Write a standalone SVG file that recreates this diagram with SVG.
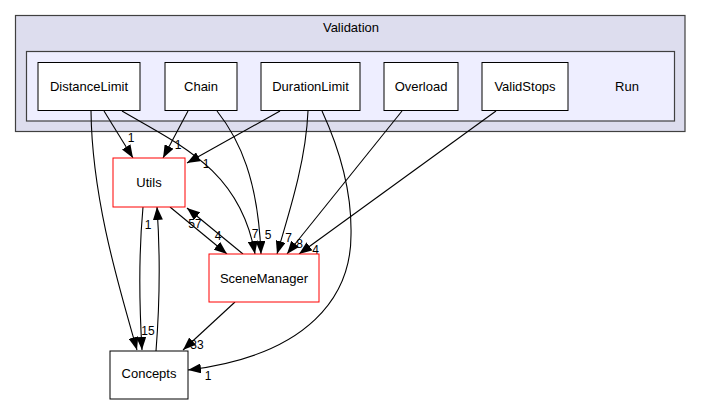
<svg xmlns="http://www.w3.org/2000/svg" width="701" height="404" viewBox="0 0 701 404">
<style>
text{font-family:"Liberation Sans",Arial,Helvetica,sans-serif;fill:#000}
.n{font-size:13px;text-anchor:middle}
.l{font-size:12px;text-anchor:middle}
.node{fill:#fff;stroke:#000;stroke-width:1}
.red{fill:#fff;stroke:#ff0000;stroke-width:1}
.e{fill:none;stroke:#000;stroke-width:1.1;marker-end:url(#ah)}
</style>
<defs>
<marker id="ah" markerUnits="userSpaceOnUse" markerWidth="13" markerHeight="10" refX="13" refY="5" orient="auto">
<path d="M0,0 L13,5 L0,10 z" fill="#000"/>
</marker>
</defs>
<rect width="701" height="404" fill="#fff"/>
<g id="cluster-validation">
<rect x="15.5" y="15.5" width="669.5" height="116" fill="#ddddee" stroke="#404040" stroke-width="1.2"/>
<text class="n" x="351" y="31.5">Validation</text>
</g>
<g id="cluster-run">
<rect x="26.5" y="51.5" width="648" height="69.5" fill="#eeeeff" stroke="#404040" stroke-width="1.2"/>
<text class="n" x="627" y="90.5">Run</text>
</g>
<g id="connectors">
<path class="e" d="M104,111 L133,158"/>
<path class="e" d="M188,111 L163,158"/>
<path class="e" d="M280,111 L187,163"/>
<path class="e" d="M122,111 C180,145 240,170 255,254"/>
<path class="e" d="M217,111 C240,140 258,180 261,254"/>
<path class="e" d="M308,111 C306,160 290,210 277,254"/>
<path class="e" d="M402,111 L287,254"/>
<path class="e" d="M496,111 L299,254"/>
<path class="e" d="M322,111 C340,150 352,190 351,235 C351,295 310,355 188,370"/>
<path class="e" d="M91,111 C92,200 120,290 137,350"/>
<path class="e" d="M143,207 C139,250 139,300 142,350"/>
<path class="e" d="M156,351 C160,300 160,250 157,207"/>
<path class="e" d="M170,207 L227,254"/>
<path class="e" d="M243,254 L187,208"/>
<path class="e" d="M235,302 L183,350"/>
<text class="l" x="131" y="142">1</text>
<text class="l" x="178" y="149">1</text>
<text class="l" x="206" y="167.5">1</text>
<text class="l" x="148" y="228.5">1</text>
<text class="l" x="148" y="335">15</text>
<text class="l" x="195" y="228">57</text>
<text class="l" x="218" y="240">4</text>
<text class="l" x="255" y="238">7</text>
<text class="l" x="268" y="238.5">5</text>
<text class="l" x="288.5" y="241.5">7</text>
<text class="l" x="299.5" y="248">8</text>
<text class="l" x="315.5" y="253.5">4</text>
<text class="l" x="197" y="349">33</text>
<text class="l" x="208" y="380">1</text>
</g>
<g id="node-distancelimit">
<rect class="node" x="38" y="62.5" width="102" height="48"/>
<text class="n" x="89" y="91">DistanceLimit</text>
</g>
<g id="node-chain">
<rect class="node" x="165" y="62.5" width="72" height="48"/>
<text class="n" x="201" y="91">Chain</text>
</g>
<g id="node-durationlimit">
<rect class="node" x="261" y="62.5" width="99" height="48"/>
<text class="n" x="310.5" y="91">DurationLimit</text>
</g>
<g id="node-overload">
<rect class="node" x="384" y="62.5" width="74" height="48"/>
<text class="n" x="421" y="91">Overload</text>
</g>
<g id="node-validstops">
<rect class="node" x="482" y="62.5" width="86" height="48"/>
<text class="n" x="525" y="91">ValidStops</text>
</g>
<g id="node-utils">
<rect class="red" x="113" y="158" width="72" height="49"/>
<text class="n" x="149" y="186.5">Utils</text>
</g>
<g id="node-scenemanager">
<rect class="red" x="209" y="254" width="110" height="48"/>
<text class="n" x="264" y="283">SceneManager</text>
</g>
<g id="node-concepts">
<rect class="node" x="110" y="351" width="78" height="48"/>
<text class="n" x="149" y="378">Concepts</text>
</g>
</svg>
